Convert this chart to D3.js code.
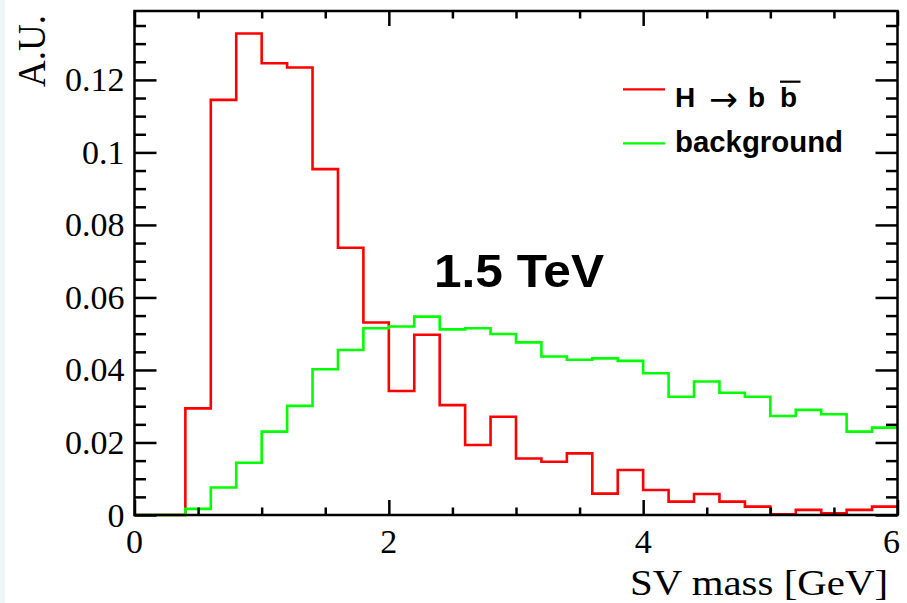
<!DOCTYPE html>
<html>
<head>
<meta charset="utf-8">
<script src="https://cdn.jsdelivr.net/npm/d3@7"></script>
<style>
  html, body { margin: 0; padding: 0; background: #ffffff; }
  svg { display: block; }
</style>
</head>
<body>
<svg id="chart" width="907" height="603"></svg>
<script>
// ---- data ----
const binStart = [0.0, 0.2, 0.4, 0.6, 0.8, 1.0, 1.2, 1.4, 1.6, 1.8,
                  2.0, 2.2, 2.4, 2.6, 2.8, 3.0, 3.2, 3.4, 3.6, 3.8,
                  4.0, 4.2, 4.4, 4.6, 4.8, 5.0, 5.2, 5.4, 5.6, 5.8];
const binEnd = 6.0;
const signalValues = [0, 0, 0.0294, 0.1145, 0.1328, 0.1246, 0.1234, 0.0954, 0.0737, 0.0531,
                      0.0342, 0.0497, 0.0303, 0.0193, 0.0271, 0.0156, 0.0147, 0.0170, 0.0059, 0.0124,
                      0.0069, 0.0037, 0.0058, 0.0037, 0.0023, 0.0002, 0.0014, 0.0005, 0.0014, 0.0023];
const backgroundValues = [0, 0, 0.0017, 0.0076, 0.0144, 0.0230, 0.0301, 0.0402, 0.0455, 0.0515,
                          0.0520, 0.0547, 0.0512, 0.0515, 0.0499, 0.0476, 0.0437, 0.0428, 0.0432, 0.0425,
                          0.0391, 0.0326, 0.0368, 0.0337, 0.0326, 0.0273, 0.0290, 0.0278, 0.0230, 0.0241];
const xMajorTicks = [0, 2, 4, 6];
const xMinorTicks = [0.5, 1, 1.5, 2.5, 3, 3.5, 4.5, 5, 5.5];
const yMajorTicks = [0, 0.02, 0.04, 0.06, 0.08, 0.1, 0.12];
const yTickLabels = ["0", "0.02", "0.04", "0.06", "0.08", "0.1", "0.12"];
const yMinorTicks = [0.005, 0.01, 0.015, 0.025, 0.03, 0.035, 0.045, 0.05, 0.055,
                     0.065, 0.07, 0.075, 0.085, 0.09, 0.095, 0.105, 0.11, 0.115, 0.125, 0.13, 0.135];
const seriesNames = ["background"];
const annotation = "1.5 TeV";
const xTitle = "SV mass [GeV]";
const yTitle = "A.U.";

// ---- layout ----
const svg = d3.select("#chart");
const L = 134.5, R = 897.5, T = 11, B = 515;
const x = d3.scaleLinear().domain([0, 6]).range([L, R]);
const y = d3.scaleLinear().domain([0, 0.139]).range([B, T]);

svg.append("rect").attr("x", 0).attr("y", 0).attr("width", 907).attr("height", 603).attr("fill", "#ffffff");
svg.append("rect").attr("x", 0).attr("y", 0).attr("width", 5).attr("height", 603).attr("fill", "#eef6f6");

// histograms
function histPath(vals) {
  const pts = binStart.map((s, i) => [s, vals[i]]);
  pts.push([binEnd, vals[vals.length - 1]]);
  return d3.line().x(d => x(d[0])).y(d => y(d[1])).curve(d3.curveStepAfter)(pts);
}
svg.append("path").attr("d", histPath(signalValues))
  .attr("fill", "none").attr("stroke", "#ff0000").attr("stroke-width", 2.6);
svg.append("path").attr("d", histPath(backgroundValues))
  .attr("fill", "none").attr("stroke", "#00ff00").attr("stroke-width", 2.6);

// axes (ROOT style: ticks inside, on all four sides)
const axisColor = "#000";
function addAxis(gen, tx, ty) {
  const g = svg.append("g").attr("transform", `translate(${tx},${ty})`).call(gen);
  g.select(".domain").remove();
  g.selectAll(".tick line").attr("stroke", axisColor).attr("stroke-width", 2.5);
  return g;
}
// bottom
addAxis(d3.axisTop(x).tickValues(xMajorTicks).tickSize(15).tickFormat(""), 0, B);
addAxis(d3.axisTop(x).tickValues(xMinorTicks).tickSize(7.5).tickFormat(""), 0, B);
// top
addAxis(d3.axisBottom(x).tickValues(xMajorTicks).tickSize(15).tickFormat(""), 0, T);
addAxis(d3.axisBottom(x).tickValues(xMinorTicks).tickSize(7.5).tickFormat(""), 0, T);
// left
addAxis(d3.axisRight(y).tickValues(yMajorTicks).tickSize(22).tickFormat(""), L, 0);
addAxis(d3.axisRight(y).tickValues(yMinorTicks).tickSize(11.5).tickFormat(""), L, 0);
// right
addAxis(d3.axisLeft(y).tickValues(yMajorTicks).tickSize(22).tickFormat(""), R, 0);
addAxis(d3.axisLeft(y).tickValues(yMinorTicks).tickSize(11.5).tickFormat(""), R, 0);

// frame
svg.append("rect").attr("x", L).attr("y", T).attr("width", R - L).attr("height", B - T)
  .attr("fill", "none").attr("stroke", axisColor).attr("stroke-width", 2.5);

// tick labels
const serif = "'Liberation Serif', 'Times New Roman', serif";
svg.append("g").selectAll("text").data(yMajorTicks).join("text")
  .attr("x", 124.5).attr("y", d => y(d) + 11.5)
  .attr("text-anchor", "end")
  .attr("font-family", serif).attr("font-size", 34).attr("fill", "#000")
  .text((d, i) => yTickLabels[i]);
svg.append("g").selectAll("text").data(xMajorTicks).join("text")
  .attr("x", d => x(d) + (d === 6 ? -6 : 0)).attr("y", 553)
  .attr("text-anchor", "middle")
  .attr("font-family", serif).attr("font-size", 34).attr("fill", "#000")
  .text(d => String(d));

// axis titles
svg.append("text").attr("x", 888).attr("y", 595).attr("text-anchor", "end")
  .attr("font-family", serif).attr("font-size", 36)
  .attr("textLength", 258).attr("lengthAdjust", "spacingAndGlyphs")
  .attr("fill", "#000").text(xTitle);
svg.append("text").attr("transform", "translate(45,15) rotate(-90)").attr("text-anchor", "end")
  .attr("font-family", serif).attr("font-size", 40)
  .attr("textLength", 72).attr("lengthAdjust", "spacingAndGlyphs")
  .attr("fill", "#000").text(yTitle);

// annotation
const sans = "'Liberation Sans', Arial, Helvetica, sans-serif";
svg.append("text").attr("x", 434).attr("y", 286.5)
  .attr("font-family", sans).attr("font-weight", "bold").attr("font-size", 47)
  .attr("textLength", 170).attr("lengthAdjust", "spacingAndGlyphs")
  .attr("fill", "#000").text(annotation);

// legend
const leg = svg.append("g");
leg.append("line").attr("x1", 623).attr("x2", 665).attr("y1", 89.3).attr("y2", 89.3)
  .attr("stroke", "#ff0000").attr("stroke-width", 2.2);
leg.append("line").attr("x1", 623).attr("x2", 665).attr("y1", 143.3).attr("y2", 143.3)
  .attr("stroke", "#00ff00").attr("stroke-width", 2.2);
leg.append("text").attr("x", 675).attr("y", 106.5)
  .attr("font-family", sans).attr("font-weight", "bold").attr("font-size", 28).attr("fill", "#000")
  .text("H");
leg.append("text").attr("x", 709).attr("y", 111)
  .attr("font-family", "'DejaVu Sans', sans-serif").attr("font-weight", "normal").attr("font-size", 34)
  .attr("textLength", 29).attr("lengthAdjust", "spacingAndGlyphs")
  .attr("fill", "#000").text("\u2192");
leg.append("text").attr("x", 748).attr("y", 106.5)
  .attr("font-family", sans).attr("font-weight", "bold").attr("font-size", 28).attr("fill", "#000")
  .text("b");
leg.append("text").attr("x", 780).attr("y", 106.5)
  .attr("font-family", sans).attr("font-weight", "bold").attr("font-size", 28).attr("fill", "#000")
  .text("b");
leg.append("line").attr("x1", 780).attr("x2", 800.5).attr("y1", 81.7).attr("y2", 81.7)
  .attr("stroke", "#000").attr("stroke-width", 2.2);
leg.append("text").attr("x", 675).attr("y", 151.5)
  .attr("font-family", sans).attr("font-weight", "bold").attr("font-size", 29)
  .attr("textLength", 168).attr("lengthAdjust", "spacingAndGlyphs")
  .attr("fill", "#000").text(seriesNames[0]);
</script>
</body>
</html>
